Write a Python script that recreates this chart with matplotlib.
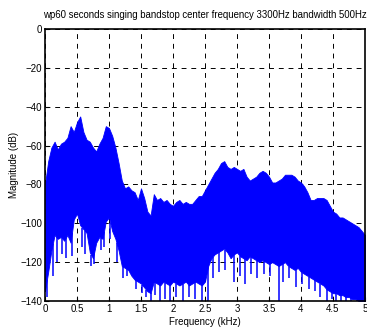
import matplotlib
matplotlib.use("Agg")
import matplotlib.pyplot as plt
import numpy as np

plt.rcParams['font.family'] = ['Liberation Sans', 'DejaVu Sans']

title = "wp60 seconds singing bandstop center frequency 3300Hz bandwidth 500Hz"
xlabel = "Frequency (kHz)"
ylabel = "Magnitude (dB)"
xtick_labels = ["0", "0.5", "1", "1.5", "2", "2.5", "3", "3.5", "4", "4.5", "5"]

# frequency grid (kHz), 0.05 kHz steps
freq = [0.00, 0.05, 0.10, 0.15, 0.20, 0.25, 0.30, 0.35, 0.40, 0.45,
        0.50, 0.55, 0.60, 0.65, 0.70, 0.75, 0.80, 0.85, 0.90, 0.95,
        1.00, 1.05, 1.10, 1.15, 1.20, 1.25, 1.30, 1.35, 1.40, 1.45,
        1.50, 1.55, 1.60, 1.65, 1.70, 1.75, 1.80, 1.85, 1.90, 1.95,
        2.00, 2.05, 2.10, 2.15, 2.20, 2.25, 2.30, 2.35, 2.40, 2.45,
        2.50, 2.55, 2.60, 2.65, 2.70, 2.75, 2.80, 2.85, 2.90, 2.95,
        3.00, 3.05, 3.10, 3.15, 3.20, 3.25, 3.30, 3.35, 3.40, 3.45,
        3.50, 3.55, 3.60, 3.65, 3.70, 3.75, 3.80, 3.85, 3.90, 3.95,
        4.00, 4.05, 4.10, 4.15, 4.20, 4.25, 4.30, 4.35, 4.40, 4.45,
        4.50, 4.55, 4.60, 4.65, 4.70, 4.75, 4.80, 4.85, 4.90, 4.95, 5.00]
# upper envelope of the spectrum (dB)
upper = [-80, -68, -61, -58, -62, -59, -58, -56, -50, -53,
         -48, -45, -53, -57, -58, -61, -63, -59, -56, -50,
         -51, -55, -61, -69, -78, -82, -81, -83, -84, -88,
         -82, -87, -94, -96, -85, -88, -87, -89, -88, -90,
         -91, -89, -88, -90, -89, -90, -90, -88, -86, -86,
         -83, -80, -77, -74, -72, -69, -68, -71, -72, -71,
         -72, -73, -72, -76, -78, -77, -76, -74, -73, -74,
         -76, -79, -79, -78, -77, -75, -75, -75, -76, -78,
         -79, -81, -84, -88, -88, -87, -87, -87, -88, -91,
         -94, -95, -97, -97, -98, -99, -100, -101, -102, -104, -106]
# lower edge of the dense part (dB)
lower = [-135, -125, -114, -106, -108, -107, -109, -106, -110, -98,
         -95, -101, -103, -105, -115, -118, -110, -107, -108, -99,
         -97, -104, -108, -114, -122, -123, -124, -127, -129, -130,
         -131, -133, -135, -136, -130, -131, -132, -130, -131, -132,
         -130, -131, -132, -131, -130, -132, -131, -130, -131, -132,
         -130, -122, -118, -116, -115, -114, -113, -115, -118, -116,
         -115, -117, -118, -119, -117, -118, -119, -120, -119, -120,
         -121, -120, -121, -122, -121, -120, -122, -123, -124, -123,
         -125, -126, -127, -128, -129, -130, -131, -132, -134, -135,
         -136, -136, -137, -137, -138, -138, -139, -139, -140, -140, -140]

# downward spikes: frequency (kHz) and minimum (dB)
spike_f = [0.03, 0.12, 0.18, 0.27, 0.33, 0.42, 0.58, 0.63, 0.72, 0.77,
           0.88, 0.92, 1.02, 1.12, 1.22, 1.28, 1.42, 1.52, 1.58, 1.65,
           1.72, 1.80, 1.88, 1.95, 2.05, 2.15, 2.25, 2.35, 2.45, 2.55,
           2.62, 2.72, 2.82, 2.95, 3.05, 3.12, 3.22, 3.32, 3.42, 3.52,
           3.65, 3.72, 3.82, 3.92, 4.02, 4.12, 4.22, 4.30, 4.40, 4.48,
           4.55, 4.62, 4.70, 4.78, 4.88]
spike_db = [-138, -127, -120, -116, -118, -117, -112, -116, -122, -121,
            -114, -112, -108, -120, -128, -127, -134, -136, -138, -140,
            -137, -140, -139, -140, -138, -140, -138, -139, -140, -140,
            -128, -125, -124, -130, -127, -131, -126, -128, -126, -127,
            -140, -130, -128, -133, -131, -134, -135, -138, -140, -139,
            -140, -140, -140, -140, -140]

fig = plt.figure(figsize=(3.67, 3.27), dpi=100)
ax = fig.add_axes([45/367, 1-301/327, 320/367, 272/327])

blue = (0, 0, 1)
ax.fill_between(freq, lower, upper, color=blue, linewidth=0.6, edgecolor=blue, zorder=3)
lo_at = np.interp(spike_f, freq, lower)
ax.vlines(spike_f, spike_db, lo_at, color=blue, linewidth=1.1, zorder=3)

ax.set_xlim(0, 5)
ax.set_ylim(-140, 0)
ax.set_xticks(np.arange(0, 5.01, 0.5))
ax.set_xticklabels(xtick_labels)
ax.set_yticks(np.arange(-140, 1, 20))
ax.tick_params(direction='in', length=3, width=0.8, labelsize=7, pad=2)
ax.grid(True, color='black', linestyle=(0, (5, 5)), linewidth=0.7, zorder=1)
ax.set_axisbelow(True)
for s in ax.spines.values():
    s.set_linewidth(1.2)
    s.set_zorder(5)

ax.set_title(title, fontsize=6.9, pad=8)
ax.set_xlabel(xlabel, fontsize=7, labelpad=2)
ax.set_ylabel(ylabel, fontsize=7, labelpad=1)

fig.savefig("out.png", dpi=100)
